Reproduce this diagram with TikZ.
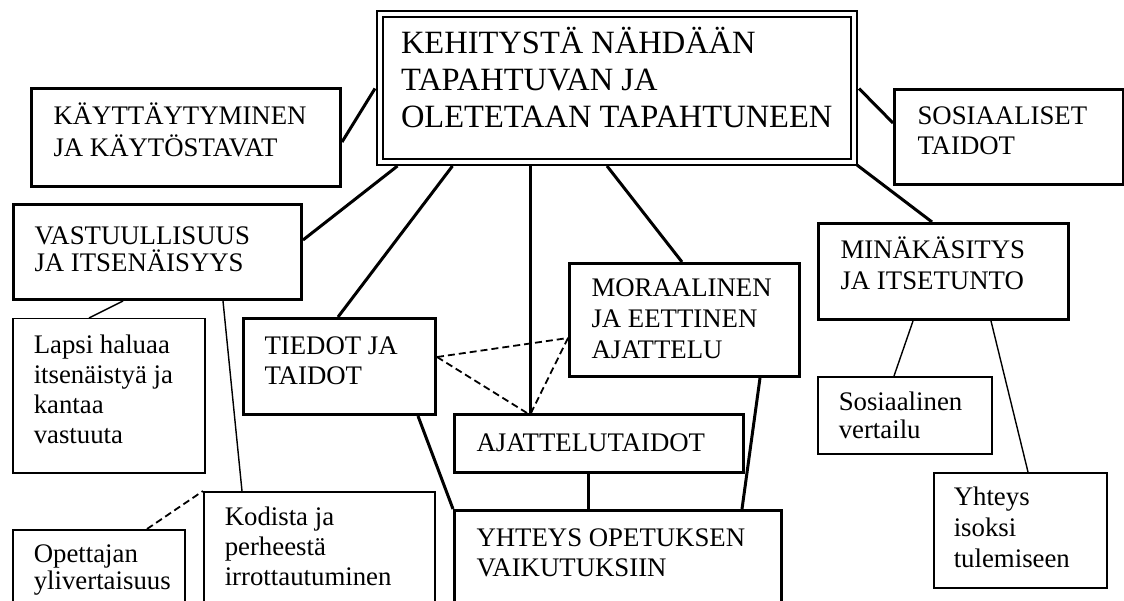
\documentclass[tikz,border=0pt]{standalone}
\usepackage{fontspec}
\setmainfont{Liberation Serif}
\usetikzlibrary{calc}

% Box contents: fixed width/height, left padding, first baseline and line spacing
\newdimen\cellpad
\newcommand\txtline[1]{\hbox to \hsize{\hskip\cellpad #1\hss}}
\newcommand\cellbody[6]{%
  \vbox to #2{\hsize=#1\relax\cellpad=#3\relax
    \baselineskip=#5\relax\lineskiplimit=-\maxdimen
    \kern\dimexpr#4-#5\relax\hbox{}#6\vss}}

\tikzset{
  boldbox/.style={draw, line width=3pt, fill=white, inner sep=0pt, anchor=north west,
    font=\fontsize{26.8}{30}\selectfont},
  thinbox/.style={draw, line width=1.5pt, fill=white, inner sep=0pt, anchor=north west,
    font=\fontsize{26.8}{30}\selectfont},
  titlebox/.style={draw, line width=2pt, double=white, double distance=4pt, inner sep=0pt,
    anchor=north west, font=\fontsize{32.5}{37}\selectfont},
  boldlink/.style={line width=3pt},
  thinlink/.style={line width=1.4pt},
  dashlink/.style={line width=1.8pt, dash pattern=on 7pt off 4pt},
}

\begin{document}
\begin{tikzpicture}[x=1pt, y=-1pt]
\useasboundingbox (0,0) rectangle (1124,601);
\fill[white] (0,0) rectangle (1124,601);
\clip (0,0) rectangle (1124,601);

% central concept
\node[titlebox] (main) at (378.5,13.5)
  {\cellbody{474.5pt}{147.5pt}{21.5pt}{39.5pt}{37pt}{\txtline{KEHITYSTÄ NÄHDÄÄN}\txtline{TAPAHTUVAN JA}\txtline{OLETETAAN TAPAHTUNEEN}}};

% main areas of development
\node[boldbox] (kay) at (30,87)
  {\cellbody{309pt}{98pt}{22pt}{36pt}{32pt}{\txtline{KÄYTTÄYTYMINEN}\txtline{JA KÄYTÖSTAVAT}}};
\node[boldbox] (sos) at (893,88)
  {\cellbody{229pt}{95pt}{23pt}{35pt}{30pt}{\txtline{SOSIAALISET}\txtline{TAIDOT}}};
\node[boldbox] (vast) at (12,203)
  {\cellbody{288pt}{95pt}{21pt}{40pt}{27pt}{\txtline{VASTUULLISUUS}\txtline{JA ITSENÄISYYS}}};
\node[boldbox] (tiedot) at (242,317)
  {\cellbody{192pt}{96pt}{21pt}{36pt}{30pt}{\txtline{TIEDOT JA}\txtline{TAIDOT}}};
\node[boldbox] (moraal) at (568,262)
  {\cellbody{230pt}{113pt}{22pt}{33pt}{31pt}{\txtline{MORAALINEN}\txtline{JA EETTINEN}\txtline{AJATTELU}}};
\node[boldbox] (ajat) at (453,413)
  {\cellbody{289pt}{58pt}{22pt}{37pt}{30pt}{\txtline{AJATTELUTAIDOT}}};
\node[boldbox] (yhteysop) at (453,509)
  {\cellbody{327pt}{110pt}{22pt}{36pt}{30pt}{\txtline{YHTEYS OPETUKSEN}\txtline{VAIKUTUKSIIN}}};
\node[boldbox] (mina) at (817,222)
  {\cellbody{250pt}{96pt}{22pt}{35pt}{31pt}{\txtline{MINÄKÄSITYS}\txtline{JA ITSETUNTO}}};

% details
\node[thinbox] (lapsi) at (12,318)
  {\cellbody{192pt}{154pt}{21pt}{35pt}{30pt}{\txtline{Lapsi haluaa}\txtline{itsenäistyä ja}\txtline{kantaa}\txtline{vastuuta}}};
\node[thinbox] (opett) at (12,529)
  {\cellbody{172pt}{90pt}{21pt}{33pt}{27pt}{\txtline{Opettajan}\txtline{ylivertaisuus}}};
\node[thinbox] (kodista) at (203,491)
  {\cellbody{231pt}{130pt}{21pt}{34pt}{30pt}{\txtline{Kodista ja}\txtline{perheestä}\txtline{irrottautuminen}}};
\node[thinbox] (sosvert) at (817,376)
  {\cellbody{174pt}{77pt}{21pt}{34pt}{28pt}{\txtline{Sosiaalinen}\txtline{vertailu}}};
\node[thinbox] (yhtiso) at (933,472)
  {\cellbody{173pt}{115pt}{20pt}{33pt}{31pt}{\txtline{Yhteys}\txtline{isoksi}\txtline{tulemiseen}}};

% links from the central concept
\draw[boldlink] ($(kay.north east)+(0,55)$) -- ($(main.north west)+(-3.5,75)$);
\draw[boldlink] ($(main.north east)+(4,75)$) -- ($(sos.north west)+(0,35)$);
\draw[boldlink] ($(main.south west)+(19,3)$) -- ($(vast.north east)+(0,37)$);
\draw[boldlink] ($(main.south west)+(74,3)$) -- ($(tiedot.north west)+(96,0)$);
\draw[boldlink] ($(main.south west)+(151.5,3)$) -- ($(ajat.north west)+(77,0)$);
\draw[boldlink] ($(main.south west)+(228.5,3)$) -- ($(moraal.north west)+(114,0)$);
\draw[boldlink] ($(main.south east)+(2,2)$) -- ($(mina.north west)+(115,0)$);

% links to the teaching effects box
\draw[boldlink] ($(tiedot.south east)+(-19,0)$) -- (yhteysop.north west);
\draw[boldlink] ($(ajat.south west)+(135,0)$) -- ($(yhteysop.north west)+(135,0)$);
\draw[boldlink] ($(moraal.south west)+(192,0)$) -- ($(yhteysop.north west)+(289,0)$);

% links to the details
\draw[thinlink] ($(vast.south west)+(111,0)$) -- ($(lapsi.north west)+(77,0)$);
\draw[thinlink] ($(vast.south west)+(211,0)$) -- ($(kodista.north west)+(39,0)$);
\draw[thinlink] ($(mina.south west)+(96,0)$) -- ($(sosvert.north west)+(77,0)$);
\draw[thinlink] ($(mina.south west)+(174,0)$) -- ($(yhtiso.north west)+(95,0)$);

% dashed relations
\draw[dashlink] ($(opett.north west)+(135,0)$) -- (kodista.north west);
\draw[dashlink] ($(tiedot.north east)+(0,40)$) -- ($(moraal.north west)+(0,76)$);
\draw[dashlink] ($(tiedot.north east)+(0,40)$) -- ($(ajat.north west)+(74,0)$);
\draw[dashlink] ($(moraal.north west)+(0,76)$) -- ($(ajat.north west)+(78,0)$);
\end{tikzpicture}
\end{document}
